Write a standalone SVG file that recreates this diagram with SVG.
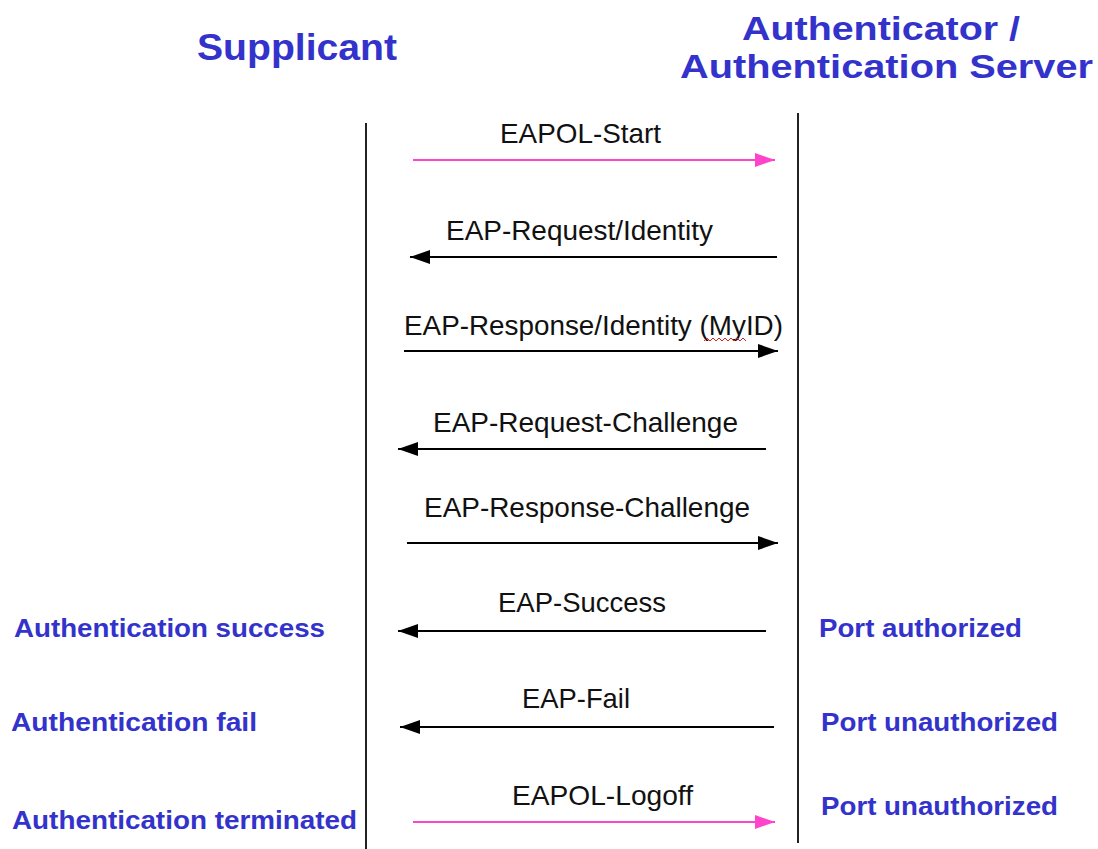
<svg xmlns="http://www.w3.org/2000/svg" width="1098" height="849" viewBox="0 0 1098 849">
<style>
.title{font-family:"Liberation Sans",Arial,sans-serif;font-weight:bold;font-size:37px;fill:#3333cc}
.t2{font-size:33.5px}
.side{font-family:"Liberation Sans",Arial,sans-serif;font-weight:bold;font-size:26px;fill:#3333cc}
.msg{font-family:"Liberation Sans",Arial,sans-serif;font-size:27.5px;fill:#111}
.life{stroke:#222;stroke-width:2}
.blk{stroke:#000;stroke-width:2;fill:none;marker-end:url(#ab)}
.pnk{stroke:#ff44cc;stroke-width:2;fill:none;marker-end:url(#ap)}
</style>
<defs>
<marker id="ab" markerUnits="userSpaceOnUse" markerWidth="22" markerHeight="16" refX="20" refY="8" orient="auto"><path d="M0,1 L20,8 L0,15 Z" fill="#000"/></marker>
<marker id="ap" markerUnits="userSpaceOnUse" markerWidth="22" markerHeight="16" refX="20" refY="8" orient="auto"><path d="M0,1 L20,8 L0,15 Z" fill="#ff44cc"/></marker>
</defs>
<rect width="1098" height="849" fill="#fff"/>
<g id="supplicant">
<text class="title" x="197" y="60" textLength="200" lengthAdjust="spacingAndGlyphs">Supplicant</text>
<line class="life" x1="366" y1="123" x2="366" y2="849"/>
</g>
<g id="authenticator">
<text class="title t2" x="742" y="40" textLength="278" lengthAdjust="spacingAndGlyphs">Authenticator /</text>
<text class="title t2" x="680" y="78" textLength="413" lengthAdjust="spacingAndGlyphs">Authentication Server</text>
<line class="life" x1="798" y1="113" x2="798" y2="843"/>
</g>
<g id="status-left">
<text class="side" x="14" y="637" textLength="311" lengthAdjust="spacingAndGlyphs">Authentication success</text>
<text class="side" x="11" y="731" textLength="246" lengthAdjust="spacingAndGlyphs">Authentication fail</text>
<text class="side" x="12" y="829" textLength="345" lengthAdjust="spacingAndGlyphs">Authentication terminated</text>
</g>
<g id="status-right">
<text class="side" x="819" y="637" textLength="203" lengthAdjust="spacingAndGlyphs">Port authorized</text>
<text class="side" x="821" y="731" textLength="237" lengthAdjust="spacingAndGlyphs">Port unauthorized</text>
<text class="side" x="821" y="815" textLength="237" lengthAdjust="spacingAndGlyphs">Port unauthorized</text>
</g>
<g id="connectors">
<line class="pnk" x1="413" y1="160" x2="775" y2="160"/>
<text class="msg" x="500" y="143" textLength="161" lengthAdjust="spacingAndGlyphs">EAPOL-Start</text>
<line class="blk" x1="777" y1="257" x2="410" y2="257"/>
<text class="msg" x="446" y="240" textLength="267" lengthAdjust="spacingAndGlyphs">EAP-Request/Identity</text>
<line class="blk" x1="404" y1="351" x2="778" y2="351"/>
<text class="msg" x="404" y="335" textLength="379" lengthAdjust="spacingAndGlyphs">EAP-Response/Identity (MyID)</text>
<path d="M704,341 l3,-3 l3,3 l3,-3 l3,3 l3,-3 l3,3 l3,-3 l3,3 l3,-3 l3,3 l3,-3 l3,3 l3,-3 l3,3" fill="none" stroke="#e02020" stroke-width="1"/>
<line class="blk" x1="766" y1="449" x2="398" y2="449"/>
<text class="msg" x="433" y="432" textLength="305" lengthAdjust="spacingAndGlyphs">EAP-Request-Challenge</text>
<line class="blk" x1="407" y1="543" x2="778" y2="543"/>
<text class="msg" x="424" y="517" textLength="326" lengthAdjust="spacingAndGlyphs">EAP-Response-Challenge</text>
<line class="blk" x1="766" y1="631" x2="398" y2="631"/>
<text class="msg" x="498" y="612" textLength="168" lengthAdjust="spacingAndGlyphs">EAP-Success</text>
<line class="blk" x1="774" y1="727" x2="400" y2="727"/>
<text class="msg" x="522" y="708" textLength="108" lengthAdjust="spacingAndGlyphs">EAP-Fail</text>
<line class="pnk" x1="413" y1="822" x2="775" y2="822"/>
<text class="msg" x="512" y="805" textLength="181" lengthAdjust="spacingAndGlyphs">EAPOL-Logoff</text>
</g>
</svg>
